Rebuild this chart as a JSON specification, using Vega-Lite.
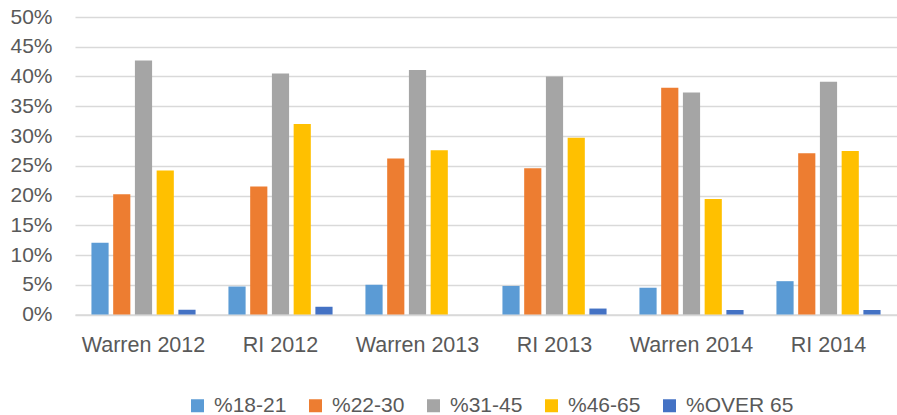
{
  "$schema": "https://vega.github.io/schema/vega-lite/v6.json",
  "width": 822,
  "height": 297.5,
  "autosize": {"type": "none"},
  "padding": {"left": 75, "top": 17, "right": 0, "bottom": 100.5},
  "background": "white",
  "config": {
    "view": {"stroke": null},
    "font": "Liberation Sans",
    "axis": {"labelColor": "#595959", "labelFontSize": 21, "titleColor": "#595959"}
  },
  "data": {
    "values": [
      {"loc": "Warren 2012", "age": "%18-21", "v": 0.1207},
      {"loc": "Warren 2012", "age": "%22-30", "v": 0.202},
      {"loc": "Warren 2012", "age": "%31-45", "v": 0.427},
      {"loc": "Warren 2012", "age": "%46-65", "v": 0.242},
      {"loc": "Warren 2012", "age": "%OVER 65", "v": 0.008},
      {"loc": "RI 2012", "age": "%18-21", "v": 0.047},
      {"loc": "RI 2012", "age": "%22-30", "v": 0.215},
      {"loc": "RI 2012", "age": "%31-45", "v": 0.405},
      {"loc": "RI 2012", "age": "%46-65", "v": 0.32},
      {"loc": "RI 2012", "age": "%OVER 65", "v": 0.013},
      {"loc": "Warren 2013", "age": "%18-21", "v": 0.05},
      {"loc": "Warren 2013", "age": "%22-30", "v": 0.262},
      {"loc": "Warren 2013", "age": "%31-45", "v": 0.411},
      {"loc": "Warren 2013", "age": "%46-65", "v": 0.276},
      {"loc": "Warren 2013", "age": "%OVER 65", "v": 0},
      {"loc": "RI 2013", "age": "%18-21", "v": 0.048},
      {"loc": "RI 2013", "age": "%22-30", "v": 0.246},
      {"loc": "RI 2013", "age": "%31-45", "v": 0.4},
      {"loc": "RI 2013", "age": "%46-65", "v": 0.297},
      {"loc": "RI 2013", "age": "%OVER 65", "v": 0.01},
      {"loc": "Warren 2014", "age": "%18-21", "v": 0.045},
      {"loc": "Warren 2014", "age": "%22-30", "v": 0.381},
      {"loc": "Warren 2014", "age": "%31-45", "v": 0.373},
      {"loc": "Warren 2014", "age": "%46-65", "v": 0.194},
      {"loc": "Warren 2014", "age": "%OVER 65", "v": 0.0076},
      {"loc": "RI 2014", "age": "%18-21", "v": 0.056},
      {"loc": "RI 2014", "age": "%22-30", "v": 0.271},
      {"loc": "RI 2014", "age": "%31-45", "v": 0.391},
      {"loc": "RI 2014", "age": "%46-65", "v": 0.275},
      {"loc": "RI 2014", "age": "%OVER 65", "v": 0.0076}
    ]
  },
  "mark": {"type": "bar"},
  "encoding": {
    "x": {
      "field": "loc", "type": "nominal", "sort": null,
      "scale": {"paddingInner": 0.24, "paddingOuter": 0.12},
      "axis": {"title": null, "labelAngle": 0, "ticks": false, "domainColor": "#d9d9d9", "domainWidth": 1.5, "labelPadding": 20, "labelFontSize": 21.5}
    },
    "xOffset": {
      "field": "age", "type": "nominal", "sort": null,
      "scale": {"paddingInner": 0.21, "paddingOuter": 0}
    },
    "y": {
      "field": "v", "type": "quantitative",
      "scale": {"domain": [0, 0.5], "nice": false},
      "axis": {"title": null, "format": ".0%", "values": [0, 0.05, 0.1, 0.15, 0.2, 0.25, 0.3, 0.35, 0.4, 0.45, 0.5], "domain": false, "ticks": false, "gridColor": "#d9d9d9", "gridWidth": 1.5, "labelPadding": 23, "labelFontSize": 21}
    },
    "color": {
      "field": "age", "type": "nominal", "sort": null,
      "scale": {"domain": ["%18-21", "%22-30", "%31-45", "%46-65", "%OVER 65"], "range": ["#5B9BD5", "#ED7D31", "#A5A5A5", "#FFC000", "#4472C4"]},
      "legend": {"title": null, "orient": "none", "direction": "horizontal", "legendX": 112, "legendY": 378, "symbolType": "square", "symbolSize": 169, "labelFontSize": 21, "labelColor": "#595959", "columnPadding": 18, "labelOffset": 6, "symbolStrokeWidth": 0}
    }
  }
}
